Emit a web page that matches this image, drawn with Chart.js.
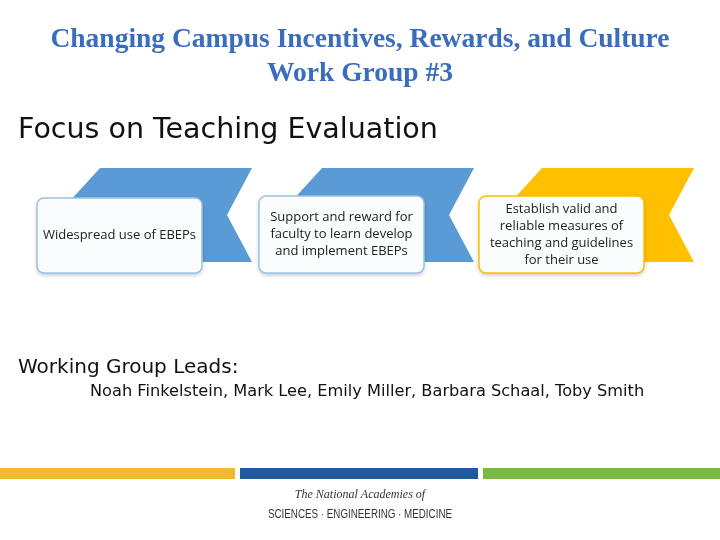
<!DOCTYPE html>
<html><head><meta charset="utf-8">
<script src="https://cdn.jsdelivr.net/npm/chart.js@4"></script>
<style>
body{margin:0;width:720px;height:540px;background:#fff;position:relative;overflow:hidden;font-family:"DejaVu Sans",sans-serif}
#c{position:absolute;left:0;top:0}
.t{position:absolute;white-space:nowrap}
</style></head><body>
<canvas id="c" width="720" height="540"></canvas>
<div class="t" style="left:0;width:720px;text-align:center;top:21px;font:bold 27.5px 'Liberation Serif',serif;color:#3b6dbe;line-height:34px">Changing Campus Incentives, Rewards, and Culture<br>Work Group #3</div>
<div class="t" style="left:18px;top:112px;font-size:28.5px;color:#111">Focus on Teaching Evaluation</div>
<div class="t" style="left:18px;top:354px;font-size:20px;color:#111">Working Group Leads:</div>
<div class="t" style="left:90px;top:381px;font-size:16.2px;color:#111">Noah Finkelstein, Mark Lee, Emily Miller, Barbara Schaal, Toby Smith</div>
<script>
const steps=["Widespread use of EBEPs","Support and reward for\nfaculty to learn develop\nand implement EBEPs","Establish valid and\nreliable measures of\nteaching and guidelines\nfor their use"];
const stepX=[37,259,479];
const arrowColors=["#5b9bd5","#5b9bd5","#ffc000"];
const boxBorders=["#9dc3e6","#9dc3e6","#ffc000"];
const bandColors=["#f2b92c","#1f5b9c","#78b843"];
const bandStarts=[0,240,483];
const bandEnds=[235,478,720];
const logoLines=["The National Academies of","SCIENCES · ENGINEERING · MEDICINE"];
const deco={id:'deco',afterDraw(ch){
 const c=ch.ctx,X=v=>ch.scales.x.getPixelForValue(v),Y=v=>ch.scales.y.getPixelForValue(v);
 steps.forEach((s,i)=>{
  const x=stepX[i];
  c.fillStyle=arrowColors[i];c.beginPath();
  c.moveTo(X(x+63),Y(168));c.lineTo(X(x+215),Y(168));c.lineTo(X(x+190),Y(215));
  c.lineTo(X(x+215),Y(262));c.lineTo(X(x+20),Y(262));c.lineTo(X(x+20),Y(215));c.closePath();c.fill();
  const bx=X(x),by=Y(i==0?198:196),bw=X(x+165)-bx,bh=Y(273)-by;
  c.save();c.shadowColor='rgba(0,0,0,0.25)';c.shadowBlur=4;c.shadowOffsetY=2;
  c.fillStyle='#fafcfe';c.beginPath();c.roundRect(bx,by,bw,bh,7);c.fill();c.restore();
  c.strokeStyle=boxBorders[i];c.lineWidth=1.5;c.beginPath();c.roundRect(bx,by,bw,bh,7);c.stroke();
  const lines=s.split("\n");c.fillStyle='#222';c.font='13px "Open Sans",sans-serif';c.textAlign='center';c.textBaseline='middle';
  lines.forEach((l,j)=>c.fillText(l,bx+bw/2,by+bh/2+(j-(lines.length-1)/2)*17));
 });
 bandColors.forEach((col,i)=>{c.fillStyle=col;c.fillRect(X(bandStarts[i]),Y(468),X(bandEnds[i])-X(bandStarts[i]),Y(479)-Y(468));});
 c.fillStyle='#333';c.textAlign='center';c.font='italic 12px "Liberation Serif",serif';c.fillText(logoLines[0],X(360),Y(495));
 c.font='12px "Liberation Sans Narrow","Liberation Sans",sans-serif';c.fillText(logoLines[1],X(360),Y(515),184);
}};
new Chart(document.getElementById('c'),{type:'scatter',data:{datasets:[{data:[]}]},
options:{responsive:false,animation:false,layout:{padding:0},plugins:{legend:{display:false},tooltip:{enabled:false}},
scales:{x:{type:'linear',min:0,max:720,display:false},y:{type:'linear',min:0,max:540,reverse:true,display:false}}},plugins:[deco]});
</script></body></html>
